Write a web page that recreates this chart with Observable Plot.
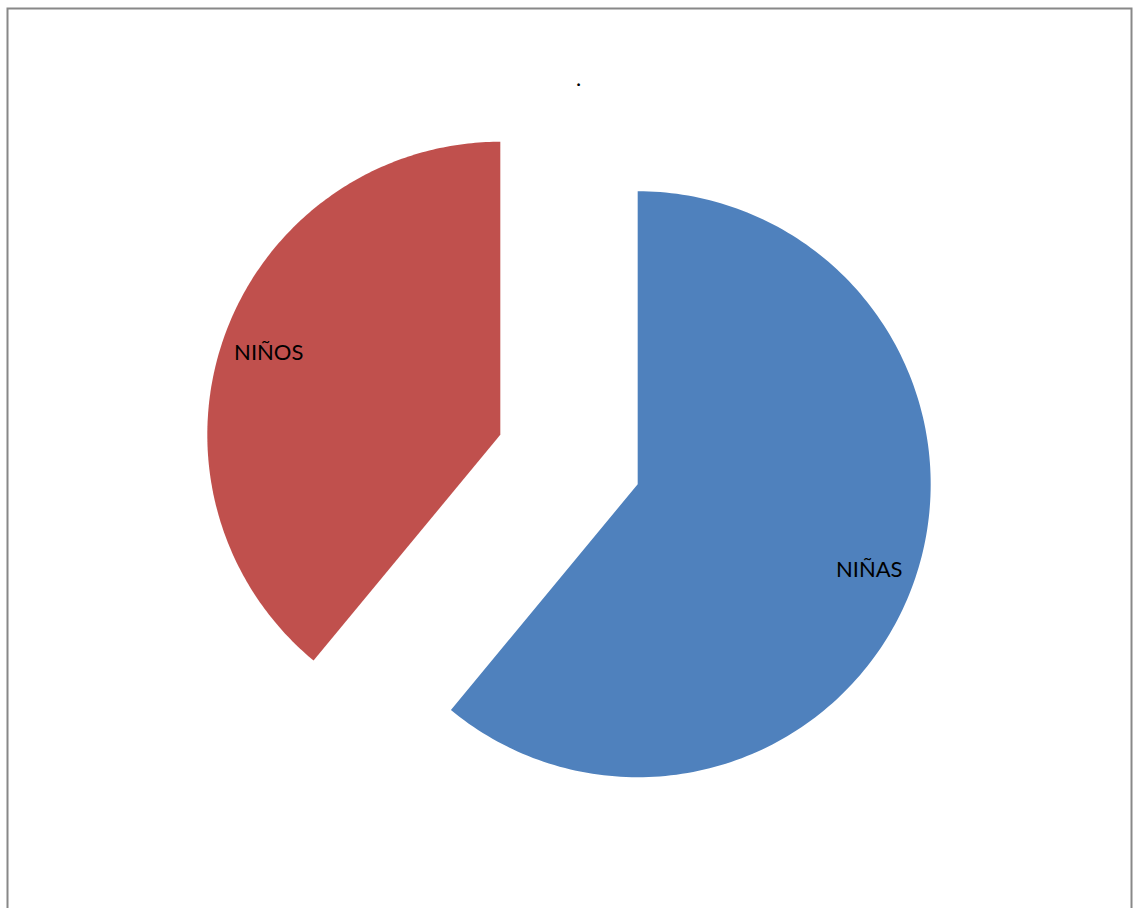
<!DOCTYPE html>
<html>
<head>
<meta charset="utf-8">
<script src="https://cdn.jsdelivr.net/npm/d3@7"></script>
<script src="https://cdn.jsdelivr.net/npm/@observablehq/plot@0.6"></script>
<style>
  html, body { margin: 0; padding: 0; background: #fff; }
  #chart svg { display: block; }
</style>
</head>
<body>
<div id="chart"></div>
<script>
// Data
const categories = ["NIÑAS", "NIÑOS"];
const values = [61, 39];
const colors = ["#4F81BD", "#C0504D"];
const title = ".";

// Layout
const W = 1134, H = 908;
const cx = 568.5, cy = 459, R = 293, explode = 73, labelFrac = 0.84;

const data = categories.map((c, i) => ({ name: c, value: values[i], color: colors[i] }));
const arcs = d3.pie().sort(null).value(d => d.value)(data);

const polyPoints = [];
const labels = [];
arcs.forEach(a => {
  const mid = (a.startAngle + a.endAngle) / 2;
  const ox = cx + explode * Math.sin(mid);
  const oy = cy - explode * Math.cos(mid);
  polyPoints.push({ name: a.data.name, color: a.data.color, x: ox, y: oy });
  const n = 200;
  for (let k = 0; k <= n; k++) {
    const t = a.startAngle + (a.endAngle - a.startAngle) * k / n;
    polyPoints.push({ name: a.data.name, color: a.data.color, x: ox + R * Math.sin(t), y: oy - R * Math.cos(t) });
  }
  polyPoints.push({ name: a.data.name, color: a.data.color, x: ox, y: oy });
  labels.push({ name: a.data.name, x: ox + labelFrac * R * Math.sin(mid), y: oy - labelFrac * R * Math.cos(mid) });
});

const chart = Plot.plot({
  width: W,
  height: H,
  margin: 0,
  x: { domain: [0, W], range: [0, W], axis: null },
  y: { domain: [0, H], range: [0, H], axis: null },
  color: { type: "identity" },
  marks: [
    Plot.frame({ stroke: "#888888", strokeWidth: 2, insetLeft: 7, insetTop: 8, insetRight: 3, insetBottom: -10 }),
    Plot.line(polyPoints, { x: "x", y: "y", z: "name", fill: "color", stroke: null }),
    Plot.text(labels, { x: "x", y: "y", dy: 2, text: "name", fontSize: 22, fontFamily: "Lato, 'Open Sans', sans-serif", fill: "#000" }),
    Plot.text([title], { frameAnchor: "top", dx: 11, dy: 70, fontSize: 22, fontFamily: "Lato, sans-serif", fill: "#000" })
  ]
});
document.getElementById("chart").appendChild(chart);
</script>
</body>
</html>
